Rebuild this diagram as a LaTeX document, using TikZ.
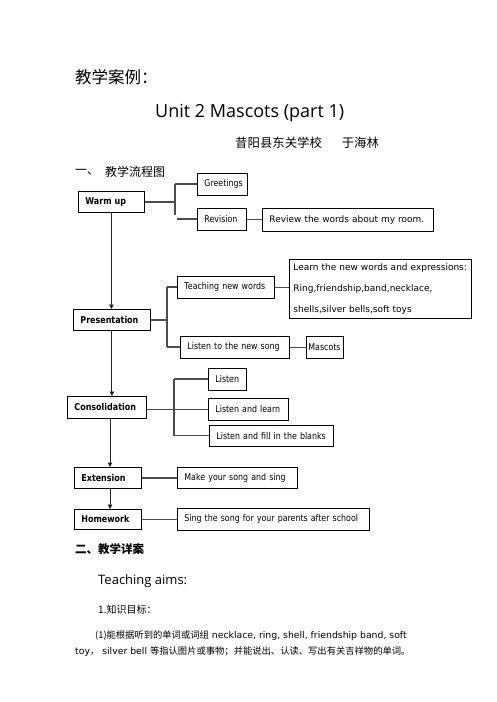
\documentclass[tikz,border=0pt]{standalone}
\usepackage{fontspec}
\setmainfont{DejaVu Sans}
\newfontfamily\cjk{Noto Sans CJK SC}
\newfontfamily\boxf[FakeStretch=0.85]{DejaVu Sans}
\newfontfamily\titlef{Open Sans}
\usetikzlibrary{arrows.meta}
\hyphenpenalty=10000
\exhyphenpenalty=10000
\begin{document}
\begin{tikzpicture}[x=1pt,y=-1pt,
  box/.style={draw=black, line width=0.8pt, anchor=north west, inner xsep=7pt, inner ysep=0pt, align=left,
    font=\boxf\fontsize{9.3}{10}\selectfont},
  head/.style={font=\boxf\bfseries\fontsize{9.4}{10}\selectfont},
  wide/.style={font=\fontsize{9}{10}\selectfont},
  link/.style={draw=black!70, line width=1.2pt},
  flow/.style={draw=black!85, line width=0.9pt, -{Triangle[length=4.5pt,width=4.5pt]}},
  txt/.style={anchor=west, inner sep=0pt}]
\fill[white] (0,0) rectangle (496,702);
\useasboundingbox (0,0) rectangle (496,702);

% headings
\node[txt, font=\cjk\fontsize{16.5}{18}\selectfont] (t1) at (75,77) {教学案例：};
\node[txt, font=\titlef\fontsize{18}{20}\selectfont] (t2) at (155,113) {Unit 2 Mascots (part 1)};
\node[txt, font=\cjk\fontsize{12.4}{14}\selectfont] (t3) at (235,143) {昔阳县东关学校\hspace{1.6em}于海林};
\node[txt, font=\cjk\fontsize{12}{14}\selectfont] (t4) at (75,172) {一、};
\node[txt, font=\cjk\fontsize{12}{14}\selectfont] (t5) at (105,172) {教学流程图};

% flow boxes
\node[box, head, text width=52pt, minimum height=21pt] (warm) at (78,191) {Warm up};
\node[box, text width=36pt, minimum height=22pt] (greet) at (197,173) {Greetings};
\node[box, text width=35pt, minimum height=22pt] (revision) at (197,208) {Revision};
\node[box, wide, text width=157pt, minimum height=23pt] (review) at (262,208) {Review the words about my room.};

\node[box, head, text width=63pt, minimum height=21pt] (pres) at (73,309) {Presentation};
\node[box, text width=83pt, minimum height=22pt] (teach) at (177,276) {Teaching new words};
\node[box, inner xsep=4pt, text width=174pt, minimum height=59pt,
  font=\fontsize{9}{21}\selectfont] (learn) at (289,259)
  {Learn the new words and expressions:\\Ring,friendship,band,necklace,\\shells,silver bells,soft toys};
\node[box, text width=95pt, minimum height=22pt] (song) at (180,336) {Listen to the new song};
\node[box, inner xsep=2pt, text width=33pt, minimum height=22pt] (mascots) at (306,336) {Mascots};

\node[box, head, text width=65pt, minimum height=22pt] (cons) at (67,396) {Consolidation};
\node[box, text width=24pt, minimum height=22pt] (listen) at (208,368) {Listen};
\node[box, text width=66pt, minimum height=22pt] (learntwo) at (208,398) {Listen and learn};
\node[box, text width=110pt, minimum height=21pt] (fill) at (209,425) {Listen and fill in the blanks};

\node[box, head, text width=53pt, minimum height=21pt] (ext) at (74,467) {Extension};
\node[box, text width=106pt, minimum height=21pt] (make) at (177,467) {Make your song and sing};
\node[box, head, text width=53pt, minimum height=20pt] (hw) at (74,509) {Homework};
\node[box, text width=178pt, minimum height=22pt] (sing) at (177,508) {Sing the song for your parents after school};

% junctions
\coordinate (ja) at (175,184);
\coordinate (jb) at (175,215);
\coordinate (jc) at (177,219);
\coordinate (jd) at (167,287);
\coordinate (je) at (167,347);
\coordinate (jf) at (174,379);
\coordinate (jg) at (174,435.5);
\coordinate (ax) at (110,0);

% connectors
\draw[link] (warm.east) -- (warm.east -| ja);
\draw[link] (ja) -- (jb);
\draw[link] (ja) -- (ja -| greet.west);
\draw[link] (jc) -- (jc -| revision.west);
\draw[link] (revision.east) -- (revision.east -| review.west);

\draw[link] (pres.east) -- (pres.east -| jd);
\draw[link] (jd) -- (je);
\draw[link] (jd) -- (jd -| teach.west);
\draw[link] (je) -- (je -| song.west);
\draw[link] (teach.east) -- (teach.east -| learn.west);
\draw[link, line width=1.8pt] (song.east) -- (song.east -| mascots.west);

\draw[link] (learntwo.west) -- (learntwo.west -| cons.east);
\draw[link] (jf) -- (jg);
\draw[link] (jf) -- (jf -| listen.west);
\draw[link] (jg) -- (jg -| fill.west);

\draw[link] (ext.east) -- (ext.east -| make.west);
\draw[link] (hw.east) -- (hw.east -| sing.west);

\draw[flow] (warm.south) -- (warm.south |- pres.north);
\draw[flow] (pres.south) -- (pres.south |- cons.north);
\draw[flow] (cons.south -| ax) -- (ext.north -| ax);
\draw[flow] (ext.south -| ax) -- (hw.north -| ax);

% section two
\node[txt, font=\cjk\bfseries\fontsize{11.5}{13}\selectfont] (t6) at (75,549) {二、教学详案};
\node[txt, font=\titlef\fontsize{13}{15}\selectfont] (t7) at (98,581) {Teaching aims:};
\node[txt, font=\cjk\fontsize{10}{12}\selectfont] (t8) at (98,610) {1.知识目标：};
\node[txt, font=\fontsize{9.3}{11}\selectfont] (t9) at (95,636) {{\cjk (1)能根据听到的单词或词组} necklace, ring, shell, friendship band, soft};
\node[txt, font=\fontsize{9.3}{11}\selectfont] (t10) at (75,652) {toy{\cjk ，} silver bell {\cjk 等指认图片或事物；并能说出、认读、写出有关吉祥物的单词。}};
\end{tikzpicture}
\end{document}
